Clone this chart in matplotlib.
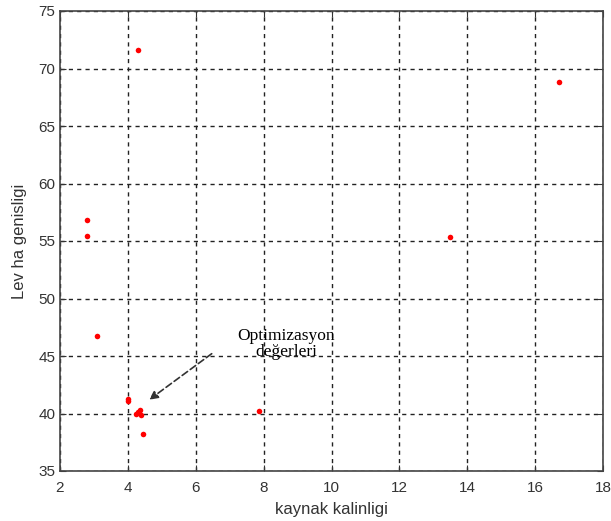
import matplotlib.pyplot as plt

# kaynak kalinligi vs levha genisligi
x_vals = [4.3, 16.7, 2.8, 2.8, 13.5, 3.1, 4.0, 4.0, 4.25, 4.35, 4.4, 4.3, 4.45, 7.85]
y_vals = [71.6, 68.8, 56.8, 55.45, 55.35, 46.75, 41.3, 41.05, 40.0, 40.3, 39.9, 40.1, 38.2, 40.25]

x_ticks = [2, 4, 6, 8, 10, 12, 14, 16, 18]
y_ticks = [35, 40, 45, 50, 55, 60, 65, 70, 75]

plt.rcParams['font.family'] = ['Liberation Sans', 'DejaVu Sans']

fig = plt.figure(figsize=(6.11, 5.21), dpi=100)
ax = fig.add_axes([60 / 611, 50 / 521, 543 / 611, 460 / 521])

ax.plot(x_vals, y_vals, 'o', color='red', markersize=4, markeredgewidth=0)

ax.set_xlim(2, 18)
ax.set_ylim(35, 75)
ax.set_xticks(x_ticks)
ax.set_yticks(y_ticks)
ax.tick_params(direction='in', length=4, labelsize=11, top=True, right=True, colors='#333333')
ax.tick_params(axis='x', pad=7)
ax.grid(True, color='#222222', linestyle=(0, (3, 3)), linewidth=1)
for s in ax.spines.values():
    s.set_color('#444444')
    s.set_linewidth(1.2)

ax.set_xlabel('kaynak kalinligi', fontsize=12, color='#333333', labelpad=5)
ax.set_ylabel('Lev ha genisligi', fontsize=12, color='#333333', labelpad=8)

# label and arrow are separate in the original
ax.text(8.66, 46.0, 'Optimizasyon\ndeğerleri', ha='center', va='center',
        fontsize=12.5, family='Liberation Serif', linespacing=1.0)
ax.annotate('', xy=(4.63, 41.2), xytext=(6.47, 45.2),
            arrowprops=dict(arrowstyle='-|>,head_length=0.5,head_width=0.25', color='#333333',
                            linestyle=(0, (4, 2)), lw=1.2, shrinkA=0, shrinkB=0))

fig.savefig('out.png', dpi=100)
